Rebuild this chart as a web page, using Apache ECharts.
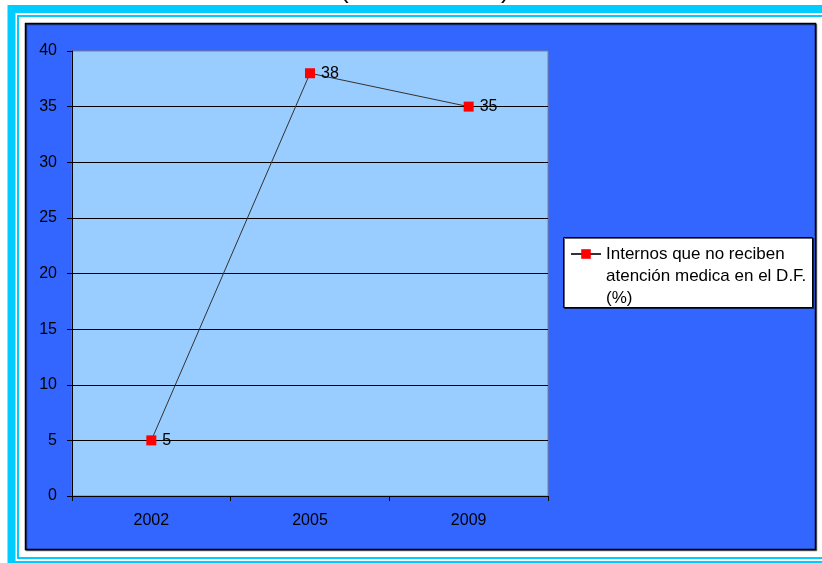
<!DOCTYPE html>
<html>
<head>
<meta charset="utf-8">
<script src="https://cdn.jsdelivr.net/npm/echarts@6/dist/echarts.min.js"></script>
<style>
  html, body { margin: 0; padding: 0; background: #fff; }
  #chart { width: 822px; height: 563px; }
</style>
</head>
<body>
<div id="chart"></div>
<script>
// datos
var years = ['2002', '2005', '2009']
var internos = [5, 38, 35]
var serieNombre = 'Internos que no reciben\natención medica en el D.F.\n(%)'

var chart = echarts.init(document.getElementById('chart'))

chart.setOption({
  backgroundColor: '#fff',
  animation: false,
  textStyle: { fontFamily: 'Liberation Sans, Arial, sans-serif' },
  graphic: {
    elements: [
      // marco cian exterior
      { type: 'rect', z: -5, shape: { x: 11.5, y: 9, width: 830, height: 556 },
        style: { fill: 'none', stroke: '#00CCFF', lineWidth: 8 } },
      // línea cian fina
      { type: 'rect', z: -5, shape: { x: 18, y: 16, width: 830, height: 542 },
        style: { fill: 'none', stroke: '#00CCFF', lineWidth: 2 } },
      // fondo azul
      { type: 'rect', z: -4, shape: { x: 25.5, y: 23.5, width: 790, height: 526 },
        style: { fill: '#3366FF', stroke: '#000', lineWidth: 1.5,
          shadowColor: 'rgba(0,0,0,0.5)', shadowOffsetX: 1, shadowOffsetY: 1 } },
      // caja leyenda
      { type: 'rect', z: 1, shape: { x: 563.5, y: 237.5, width: 249, height: 70 },
        style: { fill: '#fff', stroke: '#000', lineWidth: 1,
          shadowColor: 'rgba(0,0,0,0.6)', shadowOffsetX: 1, shadowOffsetY: 1 } },
      // restos del título
      { type: 'text', z: 1, x: 340, y: -22,
        style: { text: '(', font: '26px Liberation Sans', fill: '#000', verticalAlign: 'top' } },
      { type: 'text', z: 1, x: 501, y: -22,
        style: { text: ')', font: '26px Liberation Sans', fill: '#000', verticalAlign: 'top' } }
    ]
  },
  grid: {
    left: 72,
    top: 51,
    right: 274,
    bottom: 67,
    show: true,
    backgroundColor: '#99CCFF',
    borderColor: '#808080',
    borderWidth: 1
  },
  legend: {
    z: 5,
    left: 570,
    top: 199,
    padding: 0,
    itemWidth: 30,
    itemHeight: 12,
    data: [serieNombre],
    // dos líneas vacías delante para que el icono quede en la primera línea
    formatter: function (name) { return '\n\n' + name },
    textStyle: {
      fontSize: 17,
      color: '#000',
      lineHeight: 22
    }
  },
  xAxis: {
    type: 'category',
    data: years,
    boundaryGap: true,
    axisLine: { lineStyle: { color: '#000', width: 1 } },
    axisTick: { show: true, length: 5, lineStyle: { color: '#000' } },
    axisLabel: { color: '#000', fontSize: 16, margin: 17 }
  },
  yAxis: {
    type: 'value',
    min: 0,
    max: 40,
    interval: 5,
    axisLine: { show: true, lineStyle: { color: '#000', width: 1 } },
    axisTick: { show: true, length: 5, lineStyle: { color: '#000' } },
    axisLabel: { color: '#000', fontSize: 16, margin: 15 },
    splitLine: { show: true, showMaxLine: false, lineStyle: { color: '#000', width: 1 } }
  },
  series: [
    {
      name: serieNombre,
      type: 'line',
      data: internos,
      symbol: 'rect',
      symbolSize: 10,
      itemStyle: { color: '#FF0000' },
      lineStyle: { color: '#333', width: 1 },
      label: {
        show: true,
        position: 'right',
        distance: 6,
        color: '#000',
        fontSize: 16
      },
      z: 3
    }
  ]
})
</script>
</body>
</html>
